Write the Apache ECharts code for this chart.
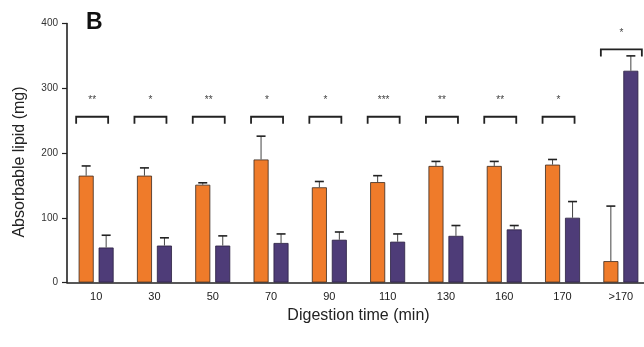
<!DOCTYPE html>
<html>
<head>
<meta charset="utf-8">
<script src="https://cdn.jsdelivr.net/npm/echarts@6/dist/echarts.min.js"></script>
<style>
html,body{margin:0;padding:0;background:#fff;}
#chart{width:644px;height:347px;}
</style>
</head>
<body>
<div id="chart"></div>
<script>
var categories = ['10', '30', '50', '70', '90', '110', '130', '160', '170', '>170'];
var orangeValues = [165, 165, 151, 190, 147, 155, 180, 180, 182, 33];
var orangeErrors = [15, 12, 3, 36, 9, 10, 7, 7, 8, 85];
var purpleValues = [54, 57, 57, 61, 66, 63, 72, 82, 100, 327];
var purpleErrors = [19, 12, 15, 14, 12, 12, 16, 6, 25, 23];
var significance = ['**', '*', '**', '*', '*', '***', '**', '**', '*', '*'];
var bracketLevels = [256, 256, 256, 256, 256, 256, 256, 256, 256, 360];
var yTicks = [0, 100, 200, 300, 400];

var ORANGE = '#EF7B2A';
var PURPLE = '#4E3C78';
var INK = '#222222';
var FONT = '"Liberation Sans", Arial, sans-serif';

var chart = echarts.init(document.getElementById('chart'), null, {renderer: 'canvas'});

function errorRender(offset) {
  return function (params, api) {
    var idx = api.value(0);
    var val = api.value(1);
    var err = api.value(2);
    var base = api.coord([idx, val]);
    var top = api.coord([idx, val + err]);
    var x = base[0] + offset;
    return {
      type: 'group',
      children: [
        {type: 'line', shape: {x1: x, y1: base[1], x2: x, y2: top[1]}, style: {stroke: '#444', lineWidth: 1}},
        {type: 'line', shape: {x1: x - 4.5, y1: top[1], x2: x + 4.5, y2: top[1]}, style: {stroke: INK, lineWidth: 1.6}}
      ]
    };
  };
}

function bracketRender(params, api) {
  var idx = api.value(0);
  var lvl = api.value(1);
  var p = api.coord([idx, lvl]);
  var last = idx === categories.length - 1;
  var x1 = p[0] - 20;
  var x2 = p[0] + (last ? 21 : 12);
  var y = p[1];
  return {
    type: 'group',
    children: [
      {type: 'polyline', shape: {points: [[x1, y + 7], [x1, y], [x2, y], [x2, y + 7]]},
        style: {stroke: INK, lineWidth: 1.8, fill: null}},
      {type: 'text', x: (x1 + x2) / 2, y: y - 16,
        style: {text: significance[idx], fill: '#444', font: '10px ' + FONT, align: 'center', verticalAlign: 'middle'}}
    ]
  };
}

var option = {
  animation: false,
  backgroundColor: '#ffffff',
  grid: {left: 67, top: 23.5, width: 583, height: 259, containLabel: false, outerBoundsMode: 'none'},
  graphic: [
    {type: 'text', left: 86, top: 11,
      style: {text: 'B', fill: '#111', font: 'bold 23px ' + FONT}}
  ],
  xAxis: {
    type: 'category',
    data: categories,
    name: 'Digestion time (min)',
    nameLocation: 'middle',
    nameGap: 25,
    nameTextStyle: {fontSize: 16, color: '#222', fontFamily: FONT},
    axisLine: {lineStyle: {color: INK, width: 1.6}},
    axisTick: {alignWithLabel: true, length: 5, lineStyle: {color: INK, width: 1.4}},
    axisLabel: {fontSize: 11, color: '#1a1a1a', margin: 9, fontFamily: FONT}
  },
  yAxis: {
    type: 'value',
    min: 0, max: 400, interval: 100,
    name: 'Absorbable lipid (mg)',
    nameLocation: 'middle',
    nameGap: 39,
    nameRotate: 90,
    nameTextStyle: {fontSize: 16, color: '#222', fontFamily: FONT, padding: [0, 18, 0, 0]},
    axisLine: {show: true, lineStyle: {color: INK, width: 1.6}},
    axisTick: {show: true, inside: false, length: 5, lineStyle: {color: INK, width: 1.2}},
    axisLabel: {fontSize: 10, color: '#333', margin: 9, fontFamily: FONT,
      formatter: function (v) { return yTicks.indexOf(v) >= 0 ? String(v) : ''; }},
    splitLine: {show: false}
  },
  series: [
    {type: 'bar', data: orangeValues, barWidth: 15, barGap: '33%',
      itemStyle: {color: ORANGE, borderColor: '#3a2a20', borderWidth: 0.8}},
    {type: 'bar', data: purpleValues, barWidth: 15, barGap: '33%',
      itemStyle: {color: PURPLE, borderColor: '#2a2040', borderWidth: 0.8}},
    {type: 'custom', renderItem: errorRender(-10), z: 5,
      data: orangeValues.map(function (v, i) { return [i, v, orangeErrors[i]]; })},
    {type: 'custom', renderItem: errorRender(10), z: 5,
      data: purpleValues.map(function (v, i) { return [i, v, purpleErrors[i]]; })},
    {type: 'custom', renderItem: bracketRender, z: 6,
      data: bracketLevels.map(function (v, i) { return [i, v]; })}
  ]
};
chart.setOption(option);
</script>
</body>
</html>
